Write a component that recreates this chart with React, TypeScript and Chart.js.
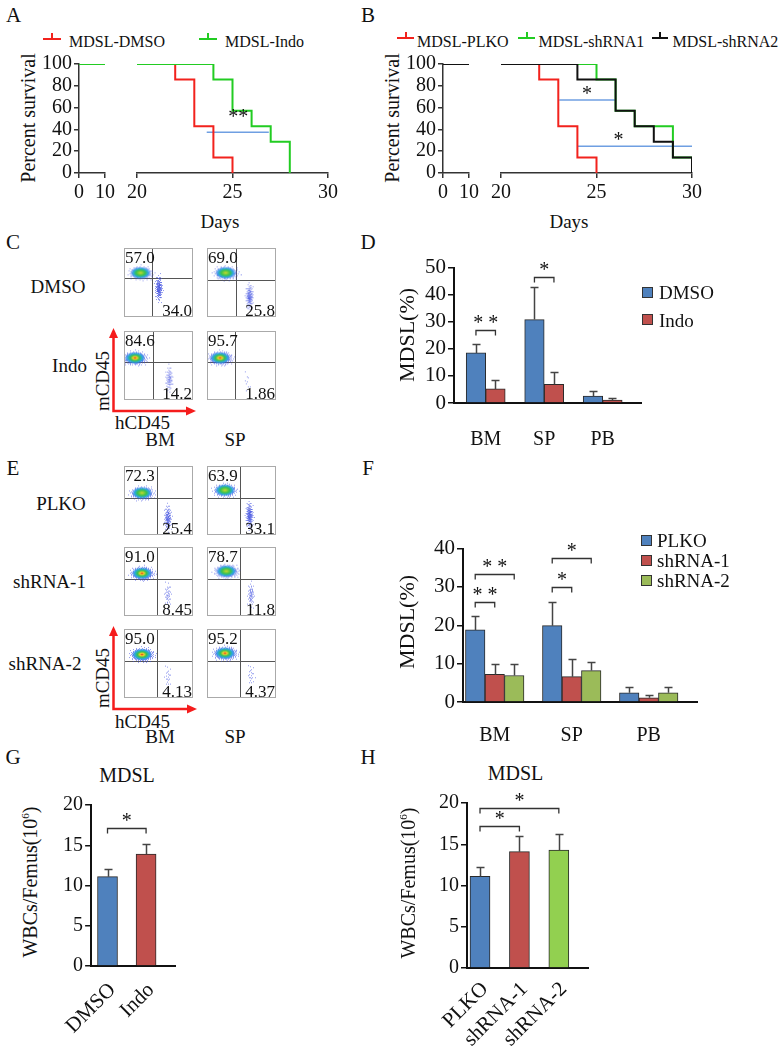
import React, { useEffect, useRef } from 'react';
import { Chart, registerables } from 'chart.js';

Chart.register(...registerables);

const FONT = '"Liberation Serif", "Times New Roman", Times, serif';
Chart.defaults.font.family = FONT;

/* ================= DATA ================= */
// Panel A – survival (days, percent)
const kmALegend = ['MDSL-DMSO', 'MDSL-Indo'];
const kmADmsoDays = [20, 22, 23, 24, 25];
const kmADmsoSurv = [100, 85.7, 42.9, 14.3, 0];
const kmAIndoDays = [20, 24, 25, 26, 27, 28];
const kmAIndoSurv = [100, 85.7, 57.1, 42.9, 28.6, 0];
const kmEarlyDays = [0, 10];
const kmEarlySurv = [100, 100];
const kmTicksEarly = [0, 10];
const kmTicksLate = [20, 25, 30];
const kmTicksSurv = [0, 20, 40, 60, 80, 100];
const kmASig = [{ from: 23.65, to: 26.9, at: 37.5, starDay: 25.3, starAt: 55, text: '**' }];

// Panel B – survival
const kmBLegend = ['MDSL-PLKO', 'MDSL-shRNA1', 'MDSL-shRNA2'];
const kmBPlkoDays = [20, 22, 23, 24, 25];
const kmBPlkoSurv = [100, 85.7, 42.9, 14.3, 0];
const kmBSh1Days = [20, 25, 26, 27, 29, 30];
const kmBSh1Surv = [100, 85.7, 57.1, 42.9, 14.3, 0];
const kmBSh2Days = [20, 24, 26, 27, 28, 29, 30];
const kmBSh2Surv = [100, 85.7, 57.1, 42.9, 28.6, 14.3, 0];
const kmBSig = [
  { from: 23.05, to: 26.0, at: 66.9, starDay: 24.5, starAt: 75.7, text: '*' },
  { from: 24.0, to: 30.0, at: 24.6, starDay: 26.15, starAt: 33.4, text: '*' },
];

// Panel C – flow plots (order: DMSO-BM, DMSO-SP, Indo-BM, Indo-SP)
const flowCRows = ['DMSO', 'Indo'];
const flowCols = ['BM', 'SP'];
const flowCMouseLabel = ['57.0', '69.0', '84.6', '95.7'];
const flowCHumanLabel = ['34.0', '25.8', '14.2', '1.86'];
const flowCGateX = [41, 42, 42, 41];
const flowCGateY = [57, 54, 55, 55];
const flowCMouseXY = [[24, 64], [27, 64], [16, 61], [19, 61]];
const flowCHumanXY = [[50, 42], [61, 30], [65, 31], [57, 27]];

// Panel D – MDSL(%) DMSO vs Indo
const tissues = ['BM', 'SP', 'PB'];
const dDmso = [18.5, 30.8, 2.6];
const dDmsoErr = [3.4, 12.2, 1.9];
const dIndo = [5.2, 6.9, 1.1];
const dIndoErr = [3.2, 4.5, 0.7];
const dLegend = ['DMSO', 'Indo'];
const dSig = [
  { ds1: 0, i1: 0, ds2: 1, i2: 0, y: 26.8, text: '* *' },
  { ds1: 0, i1: 1, ds2: 1, i2: 1, y: 46.6, text: '*' },
];

// Panel E – flow plots (PLKO, shRNA-1, shRNA-2 ; BM, SP)
const flowERows = ['PLKO', 'shRNA-1', 'shRNA-2'];
const flowEMouseLabel = ['72.3', '63.9', '91.0', '78.7', '95.0', '95.2'];
const flowEHumanLabel = ['25.4', '33.1', '8.45', '11.8', '4.13', '4.37'];
const flowEGateX = [48, 48, 48, 48, 48, 48];
const flowEGateY = [54, 54, 54, 54, 54, 54];
const flowEMouseXY = [[26, 61], [26, 65], [26, 62], [28, 65], [26, 63], [26, 65]];
const flowEHumanXY = [[63, 25], [61, 29], [63, 31], [63, 31], [63, 31], [63, 33]];

// Panel F – MDSL(%) PLKO / shRNA
const fPlko = [18.8, 19.9, 2.4];
const fPlkoErr = [3.7, 6.1, 1.6];
const fSh1 = [7.2, 6.6, 1.1];
const fSh1Err = [2.6, 4.6, 0.7];
const fSh2 = [6.9, 8.2, 2.4];
const fSh2Err = [2.9, 2.1, 1.6];
const fLegend = ['PLKO', 'shRNA-1', 'shRNA-2'];
const fSig = [
  { ds1: 0, i1: 0, ds2: 1, i2: 0, y: 26.0, text: '* *' },
  { ds1: 0, i1: 0, ds2: 2, i2: 0, y: 33.5, text: '* *' },
  { ds1: 0, i1: 1, ds2: 1, i2: 1, y: 30.1, text: '*' },
  { ds1: 0, i1: 1, ds2: 2, i2: 1, y: 37.5, text: '*' },
];

// Panel G – WBCs/Femus
const gGroups = ['DMSO', 'Indo'];
const gValues = [11.1, 13.9];
const gErr = [1.0, 1.3];
const gSig = [{ ds1: 0, i1: 0, ds2: 0, i2: 1, y: 17.1, text: '*' }];

// Panel H – WBCs/Femus
const hGroups = ['PLKO', 'shRNA-1', 'shRNA-2'];
const hValues = [11.1, 14.1, 14.3];
const hErr = [1.1, 1.9, 2.0];
const hSig = [
  { ds1: 0, i1: 0, ds2: 0, i2: 1, y: 17.2, text: '*' },
  { ds1: 0, i1: 0, ds2: 0, i2: 2, y: 19.4, text: '*' },
];

/* ================= STYLE ================= */
const RED = '#f2221d';
const GREEN = '#22cc22';
const BLACK = '#111111';
const SIG_BLUE = '#6f9fe2';
const BAR_BLUE = '#4f81bd';
const BAR_RED = '#c0504d';
const BAR_GREEN = '#9bbb59';
const BAR_GREEN_H = '#92d050';
const MOUSE_SPRITE = { w: 32, h: 19 };
const HUMAN_SPRITE = { w: 11, h: 34 };

type Area = { l: number; t: number; r: number; b: number };
type Margin = { l: number; t: number; r: number; b: number };

/* ================= PLUGINS ================= */
function starPlugin(items: { x: number; y: number; text: string }[], size = 20) {
  return {
    id: 'stars',
    afterDatasetsDraw(chart: any) {
      const { ctx } = chart;
      const xs = chart.scales.x;
      const ys = chart.scales.y;
      ctx.save();
      ctx.fillStyle = '#111';
      ctx.font = `${size}px ${FONT}`;
      ctx.textAlign = 'center';
      ctx.textBaseline = 'alphabetic';
      items.forEach((it) => {
        ctx.fillText(it.text, xs.getPixelForValue(it.x), ys.getPixelForValue(it.y) + 0.48 * size);
      });
      ctx.restore();
    },
  };
}

function errorPlugin(errs: number[][]) {
  return {
    id: 'errorBars',
    afterDatasetsDraw(chart: any) {
      const { ctx } = chart;
      const ys = chart.scales.y;
      ctx.save();
      ctx.strokeStyle = '#444';
      ctx.lineWidth = 1.5;
      chart.data.datasets.forEach((ds: any, di: number) => {
        const meta = chart.getDatasetMeta(di);
        meta.data.forEach((bar: any, i: number) => {
          const v = ds.data[i].y;
          const e = errs[di][i];
          const x = Math.round(bar.x) + 0.5;
          const y1 = Math.round(ys.getPixelForValue(v + e)) + 0.5;
          ctx.beginPath();
          ctx.moveTo(x, bar.y);
          ctx.lineTo(x, y1);
          ctx.moveTo(x - 4, y1);
          ctx.lineTo(x + 4, y1);
          ctx.stroke();
        });
      });
      ctx.restore();
    },
  };
}

function bracketPlugin(items: any[], size = 20) {
  return {
    id: 'brackets',
    afterDatasetsDraw(chart: any) {
      const { ctx } = chart;
      const ys = chart.scales.y;
      ctx.save();
      ctx.strokeStyle = '#333';
      ctx.lineWidth = 1.3;
      ctx.fillStyle = '#111';
      ctx.font = `${size}px ${FONT}`;
      ctx.textAlign = 'center';
      ctx.textBaseline = 'alphabetic';
      items.forEach((b) => {
        const x1 = chart.getDatasetMeta(b.ds1).data[b.i1].x;
        const x2 = chart.getDatasetMeta(b.ds2).data[b.i2].x;
        const yy = Math.round(ys.getPixelForValue(b.y)) + 0.5;
        ctx.beginPath();
        ctx.moveTo(x1, yy + 5);
        ctx.lineTo(x1, yy);
        ctx.lineTo(x2, yy);
        ctx.lineTo(x2, yy + 5);
        ctx.stroke();
        ctx.fillText(b.text, (x1 + x2) / 2, yy - 11 + 0.48 * size);
      });
      ctx.restore();
    },
  };
}

function flowPlugin(gx: number, gy: number, tl: string, br: string) {
  return {
    id: 'flowFrame',
    beforeDatasetsDraw(chart: any) {
      const { ctx, chartArea: a } = chart;
      const px = Math.round(chart.scales.x.getPixelForValue(gx)) + 0.5;
      const py = Math.round(chart.scales.y.getPixelForValue(gy)) + 0.5;
      ctx.save();
      ctx.strokeStyle = '#555';
      ctx.lineWidth = 1;
      ctx.beginPath();
      ctx.moveTo(px, a.top);
      ctx.lineTo(px, a.bottom);
      ctx.moveTo(a.left, py);
      ctx.lineTo(a.right, py);
      ctx.stroke();
      ctx.restore();
    },
    afterDraw(chart: any) {
      const { ctx, chartArea: a } = chart;
      ctx.save();
      ctx.strokeStyle = '#aaa';
      ctx.lineWidth = 1;
      ctx.strokeRect(a.left + 0.5, a.top + 0.5, a.right - a.left - 1, a.bottom - a.top - 1);
      ctx.fillStyle = '#111';
      ctx.font = `17px ${FONT}`;
      ctx.textBaseline = 'alphabetic';
      ctx.textAlign = 'left';
      ctx.fillText(tl, a.left + 1, a.top + 14.5);
      ctx.textAlign = 'right';
      ctx.fillText(br, a.right - 1, a.bottom - 1.5);
      ctx.restore();
    },
  };
}

/* density sprite used as a point style */
function makeSprite(w: number, h: number, dots: number, core: number): HTMLCanvasElement {
  const c = document.createElement('canvas');
  c.width = w;
  c.height = h;
  const g = c.getContext('2d') as CanvasRenderingContext2D;
  const cx = w / 2;
  const cy = h / 2;
  const norm = Math.sqrt(-2 * Math.log(0.03));
  g.fillStyle = core > 0 ? 'rgba(60, 75, 225, 0.55)' : 'rgba(70, 85, 225, 0.6)';
  for (let i = 0; i < dots; i++) {
    const u = (i + 0.5) / dots;
    const r = Math.sqrt(-2 * Math.log(1 - 0.97 * u)) / norm;
    const th = i * 2.399963;
    g.fillRect(Math.round(cx + Math.cos(th) * r * (cx - 1)), Math.round(cy + Math.sin(th) * r * (cy - 1)), 1, 1);
  }
  if (core > 0) {
    g.save();
    g.translate(cx, cy);
    g.scale(cx * 0.66, cy * 0.66);
    const grad = g.createRadialGradient(0, 0, 0, 0, 0, 1);
    if (core > 1) {
      grad.addColorStop(0, '#e2331f');
      grad.addColorStop(0.2, '#f2d22a');
    } else {
      grad.addColorStop(0, '#c9d92e');
    }
    grad.addColorStop(0.42, '#38c24c');
    grad.addColorStop(0.7, '#2aa8e2');
    grad.addColorStop(1, 'rgba(45, 90, 230, 0)');
    g.fillStyle = grad;
    g.beginPath();
    g.arc(0, 0, 1, 0, Math.PI * 2);
    g.fill();
    g.restore();
  }
  return c;
}

/* ================= CONFIG BUILDERS ================= */
const tickFont = (size: number) => ({ family: FONT, size });

function kmConfig(
  series: { days: number[]; surv: number[]; color: string }[],
  sig: { from: number; to: number; at: number; starDay: number; starAt: number; text: string }[],
  xTicks: number[],
  showY: boolean,
  m: Margin
) {
  const xMin = xTicks[0];
  const xMax = xTicks[xTicks.length - 1];
  const datasets: any[] = series.map((s) => ({
    data: s.days.map((d, i) => ({ x: d, y: s.surv[i] })),
    borderColor: s.color,
    borderWidth: 2,
    pointRadius: 0,
    stepped: 'before',
    fill: false,
  }));
  sig.forEach((s) => {
    datasets.push({
      data: [{ x: s.from, y: s.at }, { x: s.to, y: s.at }],
      borderColor: SIG_BLUE,
      borderWidth: 1.5,
      pointRadius: 0,
      fill: false,
    });
  });
  return {
    type: 'line',
    data: { datasets },
    options: {
      responsive: false,
      animation: false,
      events: [],
      layout: { padding: { left: showY ? 0 : m.l, top: m.t, right: m.r, bottom: 0 } },
      plugins: { legend: { display: false }, tooltip: { enabled: false } },
      scales: {
        x: {
          type: 'linear',
          min: xMin,
          max: xMax,
          bounds: 'data',
          afterDataLimits: (s: any) => { s.min = xMin; s.max = xMax; },
          afterBuildTicks: (s: any) => { s.ticks = xTicks.map((v) => ({ value: v })); },
          afterFit: (s: any) => { s.height = m.b; },
          ticks: { autoSkip: false, maxRotation: 0, padding: 3, color: '#111', font: tickFont(20) },
          grid: { display: true, drawOnChartArea: false, tickLength: 5, color: '#333', lineWidth: 1.5 },
          border: { display: true, color: '#333', width: 1.5 },
        },
        y: showY
          ? {
              min: 0,
              max: 100,
              bounds: 'data',
              afterBuildTicks: (s: any) => { s.ticks = kmTicksSurv.map((v) => ({ value: v })); },
              afterFit: (s: any) => { s.width = m.l; },
              ticks: { autoSkip: false, padding: 2, color: '#111', font: tickFont(20) },
              grid: { drawOnChartArea: false, tickLength: 5, color: '#333', lineWidth: 1.5 },
              border: { color: '#333', width: 1.5 },
            }
          : { display: false, min: 0, max: 100 },
      },
    },
    plugins: [starPlugin(sig.map((s) => ({ x: s.starDay, y: s.starAt, text: s.text })), 20)],
  };
}

function barConfig(p: {
  cats: string[];
  sets: { values: number[]; errs: number[]; color: string | string[] }[];
  xMin: number;
  xMax: number;
  barPx: number;
  yMax: number;
  yStep: number;
  m: Margin;
  yFont: number;
  xFont: number;
  xPad: number;
  rotate: number;
  labelOffset: number;
  sig: any[];
}) {
  const yTicks: number[] = [];
  for (let v = 0; v <= p.yMax; v += p.yStep) yTicks.push(v);
  return {
    type: 'bar',
    data: {
      datasets: p.sets.map((s) => ({
        data: p.cats.map((_, i) => ({ x: i, y: s.values[i] })),
        backgroundColor: s.color,
        borderColor: '#2a2a2a',
        borderWidth: 1,
        barThickness: p.barPx,
      })),
    },
    options: {
      responsive: false,
      animation: false,
      events: [],
      layout: { padding: { left: 0, top: p.m.t, right: p.m.r, bottom: 0 } },
      plugins: { legend: { display: false }, tooltip: { enabled: false } },
      scales: {
        x: {
          type: 'linear',
          min: p.xMin,
          max: p.xMax,
          bounds: 'data',
          offset: false,
          afterDataLimits: (s: any) => { s.min = p.xMin; s.max = p.xMax; },
          afterBuildTicks: (s: any) => { s.ticks = p.cats.map((_, i) => ({ value: i })); },
          afterFit: (s: any) => { s.height = p.m.b; },
          ticks: {
            autoSkip: false,
            minRotation: p.rotate,
            maxRotation: p.rotate,
            padding: p.xPad,
            labelOffset: p.labelOffset,
            color: '#111',
            font: tickFont(p.xFont),
            callback: (v: number) => (p.cats[Math.round(v)] !== undefined ? p.cats[Math.round(v)] : ''),
          },
          grid: { display: false, drawTicks: false, tickLength: 0, offset: false },
          border: { display: true, color: '#111', width: 2 },
        },
        y: {
          min: 0,
          max: p.yMax,
          bounds: 'data',
          afterBuildTicks: (s: any) => { s.ticks = yTicks.map((v) => ({ value: v })); },
          afterFit: (s: any) => { s.width = p.m.l; },
          ticks: { autoSkip: false, padding: 2, color: '#111', font: tickFont(p.yFont) },
          grid: { drawOnChartArea: false, tickLength: 6, color: '#111', lineWidth: 1.5 },
          border: { color: '#111', width: 2 },
        },
      },
    },
    plugins: [errorPlugin(p.sets.map((s) => s.errs)), bracketPlugin(p.sig, 20)],
  };
}

function flowConfig(mouseXY: number[], humanXY: number[], tl: string, br: string, gx: number, gy: number) {
  const mp = parseFloat(tl);
  const hp = parseFloat(br);
  const sprites = [
    makeSprite(MOUSE_SPRITE.w, MOUSE_SPRITE.h, Math.round(mp * 3.2), mp >= 80 ? 2 : 1),
    makeSprite(HUMAN_SPRITE.w, HUMAN_SPRITE.h, Math.round(hp * 5), 0),
  ];
  return {
    type: 'scatter',
    data: {
      datasets: [
        {
          data: [{ x: mouseXY[0], y: mouseXY[1] }, { x: humanXY[0], y: humanXY[1] }],
          pointStyle: (c: any) => sprites[c.dataIndex],
          pointRadius: 3,
          borderWidth: 0,
          backgroundColor: 'transparent',
        },
      ],
    },
    options: {
      responsive: false,
      animation: false,
      events: [],
      layout: { padding: 0 },
      plugins: { legend: { display: false }, tooltip: { enabled: false } },
      scales: { x: { display: false, min: 0, max: 100 }, y: { display: false, min: 0, max: 100 } },
    },
    plugins: [flowPlugin(gx, gy, tl, br)],
  };
}

/* ================= COMPONENTS ================= */
function ChartBox({ area, margin, make }: { area: Area; margin: Margin; make: () => any }) {
  const ref = useRef<HTMLCanvasElement | null>(null);
  const w = area.r - area.l + margin.l + margin.r;
  const h = area.b - area.t + margin.t + margin.b;
  useEffect(() => {
    const chart = new Chart(ref.current as HTMLCanvasElement, make());
    return () => chart.destroy();
  }, []);
  return (
    <canvas
      ref={ref}
      width={w}
      height={h}
      style={{ position: 'absolute', left: area.l - margin.l, top: area.t - margin.t, width: w, height: h }}
    />
  );
}

function Txt({ x, y, size, children, rot = 0, align = 'center' }: any) {
  const tx = align === 'center' ? '-50%' : align === 'left' ? '0%' : '-100%';
  return (
    <div
      style={{
        position: 'absolute',
        left: x,
        top: y,
        transform: `translate(${tx}, -50%) rotate(${rot}deg)`,
        whiteSpace: 'nowrap',
        fontFamily: FONT,
        fontSize: size,
        lineHeight: 1,
        color: '#111',
      }}
    >
      {children}
    </div>
  );
}

function KmKey({ x1, x2, y, color }: { x1: number; x2: number; y: number; color: string }) {
  return (
    <>
      <div style={{ position: 'absolute', left: x1, top: y - 1, width: x2 - x1, height: 2, background: color }} />
      <div style={{ position: 'absolute', left: (x1 + x2) / 2 - 1, top: y - 6, width: 2, height: 6, background: color }} />
    </>
  );
}

function Swatch({ x, y, color }: { x: number; y: number; color: string }) {
  return (
    <div
      style={{
        position: 'absolute',
        left: x,
        top: y - 5.5,
        width: 11,
        height: 11,
        boxSizing: 'border-box',
        background: color,
        border: '1px solid #333',
      }}
    />
  );
}

const KM_LEFT_M: Margin = { l: 40, t: 14, r: 14, b: 36 };
const KM_RIGHT_M: Margin = { l: 14, t: 14, r: 14, b: 36 };
const BAR_M: Margin = { l: 44, t: 14, r: 6, b: 50 };
const WBC_M: Margin = { l: 44, t: 14, r: 6, b: 80 };
const FLOW_M: Margin = { l: 0, t: 0, r: 0, b: 0 };
const FLOW_SIZE = 77;
const FLOW_C_POS = [[120, 244], [203, 244], [120, 327], [203, 327]];
const FLOW_E_POS = [[120, 462], [203, 462], [120, 543], [203, 543], [120, 625], [203, 625]];

export default function App() {
  const kmASeriesRight = [
    { days: kmAIndoDays, surv: kmAIndoSurv, color: GREEN },
    { days: kmADmsoDays, surv: kmADmsoSurv, color: RED },
  ];
  const kmASeriesLeft = [
    { days: kmEarlyDays, surv: kmEarlySurv, color: GREEN },
    { days: kmEarlyDays, surv: kmEarlySurv, color: RED },
  ];
  const kmBSeriesRight = [
    { days: kmBSh2Days, surv: kmBSh2Surv, color: BLACK },
    { days: kmBSh1Days, surv: kmBSh1Surv, color: GREEN },
    { days: kmBPlkoDays, surv: kmBPlkoSurv, color: RED },
  ];
  const kmBSeriesLeft = [
    { days: kmEarlyDays, surv: kmEarlySurv, color: BLACK },
    { days: kmEarlyDays, surv: kmEarlySurv, color: GREEN },
    { days: kmEarlyDays, surv: kmEarlySurv, color: RED },
  ];

  return (
    <div style={{ position: 'absolute', left: 0, top: 0, width: 784, height: 1050, background: '#fff', overflow: 'hidden' }}>
      {/* panel letters */}
      <Txt x={13.5} y={15} size={21}>A</Txt>
      <Txt x={368} y={15} size={21}>B</Txt>
      <Txt x={13} y={242} size={21}>C</Txt>
      <Txt x={368} y={242} size={21}>D</Txt>
      <Txt x={13} y={468} size={21}>E</Txt>
      <Txt x={368} y={468} size={21}>F</Txt>
      <Txt x={13} y={757} size={21}>G</Txt>
      <Txt x={368} y={757} size={21}>H</Txt>

      {/* ---- A ---- */}
      <KmKey x1={43} x2={61} y={38.5} color={RED} />
      <Txt x={69} y={42} size={16} align="left">{kmALegend[0]}</Txt>
      <KmKey x1={199} x2={217} y={38.5} color={GREEN} />
      <Txt x={225} y={42} size={16} align="left">{kmALegend[1]}</Txt>
      <ChartBox area={{ l: 79, t: 64, r: 105, b: 173 }} margin={KM_LEFT_M} make={() => kmConfig(kmASeriesLeft, [], kmTicksEarly, true, KM_LEFT_M)} />
      <ChartBox area={{ l: 137, t: 64, r: 328, b: 173 }} margin={KM_RIGHT_M} make={() => kmConfig(kmASeriesRight, kmASig, kmTicksLate, false, KM_RIGHT_M)} />
      <Txt x={27.5} y={118} size={20} rot={-90}>Percent survival</Txt>
      <Txt x={220} y={221} size={19}>Days</Txt>

      {/* ---- B ---- */}
      <KmKey x1={397} x2={414} y={37.5} color={RED} />
      <Txt x={417} y={42} size={16} align="left">{kmBLegend[0]}</Txt>
      <KmKey x1={518} x2={535} y={37.5} color={GREEN} />
      <Txt x={538.5} y={42} size={16} align="left">{kmBLegend[1]}</Txt>
      <KmKey x1={652} x2={668} y={37.5} color={BLACK} />
      <Txt x={672.5} y={42} size={16} align="left">{kmBLegend[2]}</Txt>
      <ChartBox area={{ l: 443, t: 64, r: 469, b: 173 }} margin={KM_LEFT_M} make={() => kmConfig(kmBSeriesLeft, [], kmTicksEarly, true, KM_LEFT_M)} />
      <ChartBox area={{ l: 501, t: 64, r: 692, b: 173 }} margin={KM_RIGHT_M} make={() => kmConfig(kmBSeriesRight, kmBSig, kmTicksLate, false, KM_RIGHT_M)} />
      <Txt x={392} y={118} size={20} rot={-90}>Percent survival</Txt>
      <Txt x={569} y={221} size={19}>Days</Txt>

      {/* ---- C ---- */}
      {FLOW_C_POS.map((pos, i) => (
        <ChartBox
          key={'c' + i}
          area={{ l: pos[0], t: pos[1], r: pos[0] + FLOW_SIZE, b: pos[1] + FLOW_SIZE }}
          margin={FLOW_M}
          make={() => flowConfig(flowCMouseXY[i], flowCHumanXY[i], flowCMouseLabel[i], flowCHumanLabel[i], flowCGateX[i], flowCGateY[i])}
        />
      ))}
      <Txt x={58} y={286} size={19}>{flowCRows[0]}</Txt>
      <Txt x={69.5} y={365} size={19}>{flowCRows[1]}</Txt>
      <Txt x={101.5} y={381} size={19} rot={-90}>mCD45</Txt>
      <Txt x={142.5} y={421.5} size={19}>hCD45</Txt>
      <Txt x={160} y={438.5} size={19}>{flowCols[0]}</Txt>
      <Txt x={235} y={438.5} size={19}>{flowCols[1]}</Txt>

      {/* ---- D ---- */}
      <ChartBox
        area={{ l: 454, t: 267, r: 641, b: 403 }}
        margin={BAR_M}
        make={() =>
          barConfig({
            cats: tissues,
            sets: [
              { values: dDmso, errs: dDmsoErr, color: BAR_BLUE },
              { values: dIndo, errs: dIndoErr, color: BAR_RED },
            ],
            xMin: -0.542,
            xMax: 2.655,
            barPx: 19.5,
            yMax: 50,
            yStep: 10,
            m: BAR_M,
            yFont: 21,
            xFont: 20,
            xPad: 25,
            rotate: 0,
            labelOffset: 0,
            sig: dSig,
          })
        }
      />
      <Txt x={406.5} y={335} size={22} rot={-90}>MDSL(%)</Txt>
      <Swatch x={642} y={292} color={BAR_BLUE} />
      <Txt x={659} y={292} size={19} align="left">{dLegend[0]}</Txt>
      <Swatch x={642} y={319.5} color={BAR_RED} />
      <Txt x={659} y={319.5} size={19} align="left">{dLegend[1]}</Txt>

      {/* ---- E ---- */}
      {FLOW_E_POS.map((pos, i) => (
        <ChartBox
          key={'e' + i}
          area={{ l: pos[0], t: pos[1], r: pos[0] + FLOW_SIZE, b: pos[1] + FLOW_SIZE }}
          margin={FLOW_M}
          make={() => flowConfig(flowEMouseXY[i], flowEHumanXY[i], flowEMouseLabel[i], flowEHumanLabel[i], flowEGateX[i], flowEGateY[i])}
        />
      ))}
      <Txt x={61} y={502.5} size={19}>{flowERows[0]}</Txt>
      <Txt x={49.5} y={581} size={19}>{flowERows[1]}</Txt>
      <Txt x={45} y={662.5} size={19}>{flowERows[2]}</Txt>
      <Txt x={101.5} y={678} size={19} rot={-90}>mCD45</Txt>
      <Txt x={142.5} y={720.5} size={19}>hCD45</Txt>
      <Txt x={160} y={736} size={19}>{flowCols[0]}</Txt>
      <Txt x={235} y={736} size={19}>{flowCols[1]}</Txt>

      {/* ---- F ---- */}
      <ChartBox
        area={{ l: 463, t: 548, r: 697, b: 702 }}
        margin={BAR_M}
        make={() =>
          barConfig({
            cats: tissues,
            sets: [
              { values: fPlko, errs: fPlkoErr, color: BAR_BLUE },
              { values: fSh1, errs: fSh1Err, color: BAR_RED },
              { values: fSh2, errs: fSh2Err, color: BAR_GREEN },
            ],
            xMin: -0.412,
            xMax: 2.627,
            barPx: 19.5,
            yMax: 40,
            yStep: 10,
            m: BAR_M,
            yFont: 21,
            xFont: 20,
            xPad: 22,
            rotate: 0,
            labelOffset: 0,
            sig: fSig,
          })
        }
      />
      <Txt x={406.5} y={622} size={22} rot={-90}>MDSL(%)</Txt>
      <Swatch x={640.5} y={540} color={BAR_BLUE} />
      <Txt x={657} y={540} size={19} align="left">{fLegend[0]}</Txt>
      <Swatch x={640.5} y={560} color={BAR_RED} />
      <Txt x={657} y={560} size={19} align="left">{fLegend[1]}</Txt>
      <Swatch x={640.5} y={580} color={BAR_GREEN} />
      <Txt x={657} y={580} size={19} align="left">{fLegend[2]}</Txt>

      {/* ---- G ---- */}
      <Txt x={127} y={775} size={20}>MDSL</Txt>
      <ChartBox
        area={{ l: 88, t: 805, r: 175, b: 966 }}
        margin={WBC_M}
        make={() =>
          barConfig({
            cats: gGroups,
            sets: [{ values: gValues, errs: gErr, color: [BAR_BLUE, BAR_RED] }],
            xMin: -0.425,
            xMax: 1.75,
            barPx: 20,
            yMax: 20,
            yStep: 5,
            m: WBC_M,
            yFont: 20,
            xFont: 21,
            xPad: 12,
            rotate: 45,
            labelOffset: 5,
            sig: gSig,
          })
        }
      />
      <Txt x={30} y={882} size={20} rot={-90}>
        WBCs/Femus(10<span style={{ fontSize: '0.55em', verticalAlign: '0.7em' }}>6</span>)
      </Txt>

      {/* ---- H ---- */}
      <Txt x={515.5} y={773} size={20}>MDSL</Txt>
      <ChartBox
        area={{ l: 467, t: 803, r: 588, b: 968 }}
        margin={WBC_M}
        make={() =>
          barConfig({
            cats: hGroups,
            sets: [{ values: hValues, errs: hErr, color: [BAR_BLUE, BAR_RED, BAR_GREEN_H] }],
            xMin: -0.33,
            xMax: 2.74,
            barPx: 20,
            yMax: 20,
            yStep: 5,
            m: WBC_M,
            yFont: 20,
            xFont: 21,
            xPad: 9,
            rotate: 45,
            labelOffset: 5,
            sig: hSig,
          })
        }
      />
      <Txt x={407.5} y={883} size={20} rot={-90}>
        WBCs/Femus(10<span style={{ fontSize: '0.55em', verticalAlign: '0.7em' }}>6</span>)
      </Txt>

      {/* red axis arrows for flow panels */}
      <svg width={784} height={1050} style={{ position: 'absolute', left: 0, top: 0, pointerEvents: 'none' }}>
        <g stroke="#f51c1c" strokeWidth={2.5} fill="none">
          <polyline points="113.5,335 113.5,411 189,411" />
          <polyline points="113.5,633 113.5,709 190,709" />
        </g>
        <g fill="#f51c1c">
          <polygon points="113.5,328 109,338 118,338" />
          <polygon points="196,411 186,406.5 186,415.5" />
          <polygon points="113.5,626 109,636 118,636" />
          <polygon points="197,709 187,704.5 187,713.5" />
        </g>
      </svg>
    </div>
  );
}
